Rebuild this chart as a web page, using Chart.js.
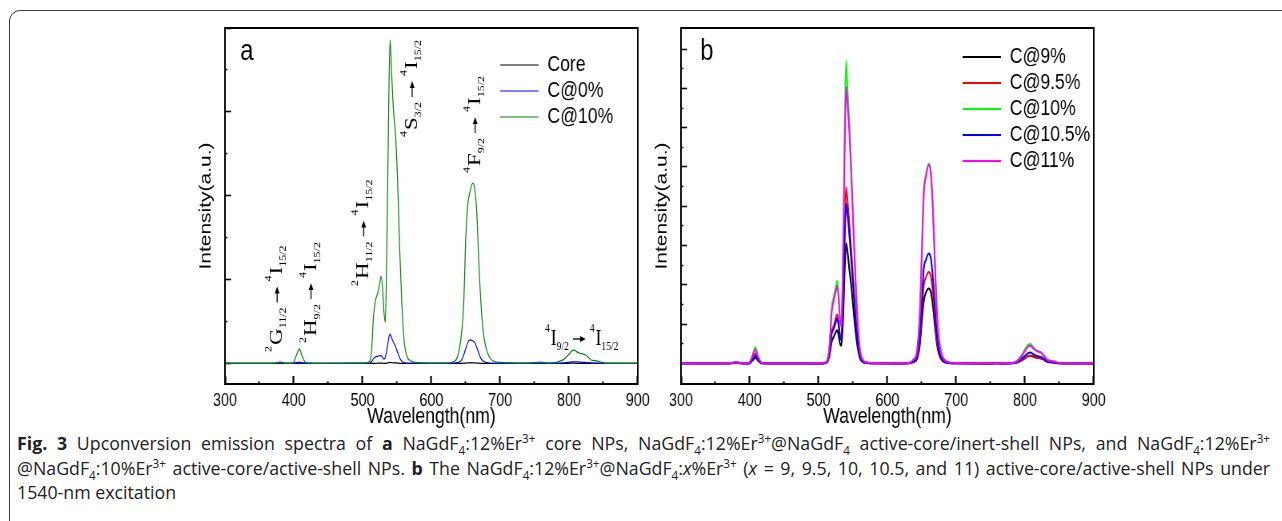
<!DOCTYPE html>
<html>
<head>
<meta charset="utf-8">
<script src="https://cdn.jsdelivr.net/npm/chart.js@4.4.1/dist/chart.umd.min.js"></script>
<style>
body { margin:0; background:#fff; width:1282px; height:521px; overflow:hidden; position:relative; }
#box { position:absolute; left:9px; top:10px; width:1300px; height:600px; border:1px solid #3a3a3a; border-radius:11px; }
.panel { position:absolute; top:0; width:600px; height:430px; transform:scaleX(0.8); transform-origin:0 0; }
#cap { position:absolute; left:17px; top:431px; width:1253px; font-family:"Open Sans", sans-serif; font-size:16px; line-height:24.5px; color:#222; }
#cap div { text-align:justify; text-align-last:justify; white-space:nowrap; }
#cap div.last, #cap.fit div { text-align-last:left; }
#cap sub, #cap sup { font-size:0.66em; line-height:0; }
</style>
</head>
<body>
<div id="box"></div>
<div class="panel" style="left:181px"><canvas id="chartA" width="600" height="430"></canvas></div>
<div class="panel" style="left:637px"><canvas id="chartB" width="600" height="430"></canvas></div>
<div id="cap">
<div><span><b>Fig. 3</b> Upconversion emission spectra of <b>a</b> NaGdF<sub>4</sub>:12%Er<sup>3+</sup> core NPs, NaGdF<sub>4</sub>:12%Er<sup>3+</sup>@NaGdF<sub>4</sub> active-core/inert-shell NPs, and NaGdF<sub>4</sub>:12%Er<sup>3+</sup></span></div>
<div><span>@NaGdF<sub>4</sub>:10%Er<sup>3+</sup> active-core/active-shell NPs. <b>b</b> The NaGdF<sub>4</sub>:12%Er<sup>3+</sup>@NaGdF<sub>4</sub>:<i>x</i>%Er<sup>3+</sup> (<i>x</i> = 9, 9.5, 10, 10.5, and 11) active-core/active-shell NPs under</span></div>
<div class="last"><span>1540-nm excitation</span></div>
</div>
<script>
const wavelength = [300, 360, 372, 376, 380, 384, 388, 396, 400, 404,
    408, 412, 416, 420, 430, 480, 505, 510, 513, 516,
    519, 522, 525, 527, 529, 531, 533, 535, 537, 538,
    540, 542, 545, 548, 551, 554, 557, 560, 564, 570,
    580, 620, 632, 638, 643, 647, 650, 653, 656, 660,
    663, 666, 669, 672, 675, 679, 684, 690, 700, 740,
    760, 770, 780, 788, 794, 800, 804, 808, 812, 816,
    820, 824, 828, 832, 836, 840, 846, 852, 860, 900];

// panel a
const core = [0, 0, 0, 0, 0.001, 0, 0, 0, 0, 0.001,
    0.003, 0.001, 0, 0, 0, 0, 0, 0, 0, 0.001,
    0.002, 0.003, 0.003, 0.004, 0.003, 0.002, 0.002, 0.004, 0.008, 0.01,
    0.012, 0.01, 0.008, 0.006, 0.004, 0.002, 0.001, 0, 0, 0,
    0, 0, 0, 0, 0.001, 0.003, 0.005, 0.007, 0.008, 0.008,
    0.007, 0.005, 0.003, 0.002, 0.001, 0, 0, 0, 0, 0,
    0, 0, 0, 0, 0.001, 0.002, 0.003, 0.003, 0.002, 0.002,
    0.002, 0.001, 0.001, 0, 0, 0, 0, 0, 0, 0];
const shell0 = [0, 0, 0, 0.002, 0.006, 0.003, 0, 0, 0.003, 0.01,
    0.015, 0.009, 0.003, 0, 0, 0, 0, 0.005, 0.02, 0.06,
    0.08, 0.085, 0.095, 0.09, 0.075, 0.05, 0.07, 0.15, 0.25, 0.3,
    0.35, 0.31, 0.25, 0.2, 0.13, 0.065, 0.025, 0.01, 0.003, 0,
    0, 0, 0.003, 0.01, 0.03, 0.1, 0.18, 0.25, 0.28, 0.27,
    0.25, 0.19, 0.12, 0.06, 0.03, 0.012, 0.004, 0, 0, 0,
    0.002, 0, 0, 0.003, 0.008, 0.014, 0.018, 0.02, 0.018, 0.016,
    0.014, 0.012, 0.01, 0.006, 0.004, 0.003, 0.001, 0, 0, 0];
const shell10 = [0, 0, 0.004, 0.01, 0.018, 0.01, 0.003, 0.002, 0.02, 0.1,
    0.175, 0.09, 0.02, 0.006, 0.002, 0.003, 0.006, 0.025, 0.14, 0.58,
    0.76, 0.84, 0.96, 1.04, 0.9, 0.62, 0.49, 1.25, 2.45, 3.1,
    3.86, 3.5, 3.0, 2.72, 2.15, 1.35, 0.72, 0.3, 0.1, 0.03,
    0.01, 0.004, 0.02, 0.08, 0.3, 0.72, 1.5, 1.9, 2.04, 2.15,
    2.08, 1.8, 1.2, 0.72, 0.4, 0.2, 0.08, 0.03, 0.012, 0.004,
    0.015, 0.005, 0.01, 0.03, 0.06, 0.11, 0.15, 0.16, 0.135, 0.122,
    0.115, 0.1, 0.075, 0.042, 0.035, 0.03, 0.015, 0.005, 0.002, 0];

// panel b
const c9 = [0, 0, 0.005, 0.02, 0.03, 0.018, 0.005, 0.002, 0.015, 0.08,
    0.15, 0.075, 0.015, 0.005, 0.002, 0.002, 0.004, 0.015, 0.05, 0.22,
    0.55, 0.68, 0.8, 0.85, 0.72, 0.52, 0.45, 0.9, 1.85, 2.4,
    3.06, 2.85, 2.35, 1.9, 1.3, 0.78, 0.38, 0.14, 0.04, 0.015,
    0.005, 0.003, 0.01, 0.04, 0.11, 0.45, 1.05, 1.6, 1.8, 1.91,
    1.83, 1.5, 0.97, 0.5, 0.23, 0.09, 0.03, 0.012, 0.005, 0.003,
    0.005, 0.003, 0.005, 0.025, 0.07, 0.14, 0.19, 0.2, 0.18, 0.16,
    0.15, 0.13, 0.09, 0.05, 0.035, 0.03, 0.015, 0.005, 0.002, 0];
const c95 = [0, 0, 0.005, 0.02, 0.033, 0.02, 0.005, 0.002, 0.025, 0.13,
    0.25, 0.12, 0.025, 0.008, 0.002, 0.002, 0.004, 0.02, 0.06, 0.3,
    0.8, 0.95, 1.15, 1.25, 1.05, 0.75, 0.65, 1.3, 2.7, 3.5,
    4.48, 4.15, 3.5, 2.75, 1.95, 1.2, 0.6, 0.22, 0.06, 0.02,
    0.005, 0.003, 0.012, 0.05, 0.14, 0.56, 1.28, 2.0, 2.19, 2.33,
    2.24, 1.84, 1.19, 0.6, 0.28, 0.1, 0.04, 0.015, 0.005, 0.003,
    0.005, 0.003, 0.005, 0.025, 0.07, 0.14, 0.19, 0.2, 0.17, 0.15,
    0.14, 0.13, 0.09, 0.05, 0.035, 0.03, 0.015, 0.005, 0.002, 0];
const c10 = [0, 0, 0.006, 0.022, 0.038, 0.022, 0.006, 0.002, 0.04, 0.22,
    0.41, 0.2, 0.04, 0.01, 0.003, 0.003, 0.006, 0.03, 0.1, 0.5,
    1.4, 1.7, 1.95, 2.1, 1.8, 1.2, 1.0, 2.2, 4.6, 6.0,
    7.7, 7.0, 6.0, 4.7, 3.3, 2.0, 1.0, 0.35, 0.1, 0.03,
    0.01, 0.005, 0.02, 0.1, 0.3, 1.2, 2.8, 4.4, 4.8, 5.08,
    4.9, 4.0, 2.6, 1.3, 0.6, 0.22, 0.08, 0.03, 0.01, 0.005,
    0.008, 0.005, 0.01, 0.06, 0.18, 0.36, 0.47, 0.5, 0.42, 0.34,
    0.31, 0.27, 0.18, 0.1, 0.07, 0.06, 0.03, 0.01, 0.003, 0];
const c105 = [0, 0, 0.005, 0.02, 0.03, 0.018, 0.005, 0.002, 0.02, 0.1,
    0.2, 0.1, 0.02, 0.006, 0.002, 0.002, 0.004, 0.02, 0.06, 0.28,
    0.75, 0.88, 1.05, 1.15, 0.98, 0.7, 0.6, 1.2, 2.45, 3.2,
    4.07, 3.8, 3.2, 2.5, 1.78, 1.08, 0.54, 0.2, 0.055, 0.02,
    0.005, 0.003, 0.015, 0.06, 0.17, 0.67, 1.54, 2.43, 2.63, 2.8,
    2.69, 2.21, 1.43, 0.73, 0.34, 0.13, 0.045, 0.015, 0.005, 0.003,
    0.005, 0.003, 0.005, 0.03, 0.1, 0.2, 0.26, 0.28, 0.24, 0.2,
    0.18, 0.16, 0.11, 0.06, 0.045, 0.035, 0.02, 0.005, 0.002, 0];
const c11 = [0, 0, 0.006, 0.02, 0.036, 0.02, 0.006, 0.002, 0.035, 0.19,
    0.35, 0.17, 0.035, 0.01, 0.003, 0.003, 0.005, 0.03, 0.09, 0.45,
    1.3, 1.6, 1.83, 1.97, 1.7, 1.15, 0.95, 2.0, 4.2, 5.5,
    7.04, 6.6, 5.8, 4.6, 3.3, 2.0, 1.0, 0.36, 0.1, 0.03,
    0.01, 0.005, 0.02, 0.1, 0.3, 1.2, 2.75, 4.35, 4.75, 5.05,
    4.87, 4.0, 2.6, 1.32, 0.61, 0.23, 0.08, 0.03, 0.01, 0.005,
    0.008, 0.005, 0.01, 0.055, 0.16, 0.32, 0.42, 0.45, 0.39, 0.33,
    0.3, 0.27, 0.19, 0.1, 0.07, 0.06, 0.03, 0.01, 0.003, 0];

// transition labels of panel a, anchored at (wavelength, intensity)
const transitions = [
    {x: 382.8, y: 0.137, rot: true, runs: [['2', 'sup'], ['G', 'main'], ['11/2', 'sub'], ['', 'arrow'], ['4', 'sup'], ['I', 'main'], ['15/2', 'sub']]},
    {x: 432, y: 0.244, rot: true, runs: [['2', 'sup'], ['H', 'main'], ['9/2', 'sub'], ['', 'arrow'], ['4', 'sup'], ['I', 'main'], ['15/2', 'sub']]},
    {x: 508.6, y: 0.924, rot: true, runs: [['2', 'sup'], ['H', 'main'], ['11/2', 'sub'], ['', 'arrow'], ['4', 'sup'], ['I', 'main'], ['15/2', 'sub']]},
    {x: 579, y: 2.7, rot: true, runs: [['4', 'sup'], ['S', 'main'], ['3/2', 'sub'], ['', 'arrow'], ['4', 'sup'], ['I', 'main'], ['15/2', 'sub']]},
    {x: 670.6, y: 2.27, rot: true, runs: [['4', 'sup'], ['F', 'main'], ['9/2', 'sub'], ['', 'arrow'], ['4', 'sup'], ['I', 'main'], ['15/2', 'sub']]},
    {x: 765, y: 0.22, rot: false, runs: [['4', 'sup'], ['I', 'main'], ['9/2', 'sub'], ['', 'arrow'], ['4', 'sup'], ['I', 'main'], ['15/2', 'sub']]}
];

const SANS = '"Liberation Sans", Arial, sans-serif';
const SERIF = '"Liberation Serif", "Times New Roman", serif';
const RUN = {
    main: {size: 23, dy: 0, pre: 0, post: 0},
    sup: {size: 12, dy: -13, pre: 0, post: 1},
    sub: {size: 12, dy: 5, pre: 0, post: 0},
    arrow: {size: 16, dy: -6, pre: 5, post: 5}
};

function pts(vals) {
    return wavelength.map((w, i) => ({x: w, y: vals[i]}));
}
const isWhole = v => Math.abs(v - Math.round(v)) < 1e-6;
const isHalf = v => Math.abs(v * 2 - Math.round(v * 2)) < 1e-6;

const frame = {
    id: 'frame',
    afterDatasetsDraw(chart) {
        const {ctx, chartArea: a} = chart;
        ctx.save();
        ctx.strokeStyle = '#000';
        ctx.lineWidth = 2;
        ctx.strokeRect(a.left, a.top, a.right - a.left, a.bottom - a.top);
        ctx.restore();
    }
};

const panelTag = {
    id: 'panelTag',
    afterDraw(chart, args, opts) {
        const {ctx, chartArea: a} = chart;
        ctx.save();
        ctx.font = '30px ' + SANS;
        ctx.fillStyle = '#000';
        ctx.fillText(opts.text, a.left + opts.dx, a.top + 32);
        ctx.restore();
    }
};

// put the legend inside the plot, top right
const legendSpot = {
    id: 'legendSpot',
    afterLayout(chart, args, opts) {
        const lg = chart.legend;
        lg.left = opts.left;
        lg.top = opts.top;
        lg.right = lg.left + lg.width;
        lg.bottom = chart.chartArea.bottom;
    }
};

const levels = {
    id: 'levels',
    afterDatasetsDraw(chart, args, opts) {
        const {ctx, scales: {x, y}} = chart;
        ctx.save();
        ctx.fillStyle = '#000';
        ctx.strokeStyle = '#000';
        ctx.lineWidth = 1.3;
        ctx.textBaseline = 'alphabetic';
        (opts.items || []).forEach(it => {
            ctx.save();
            ctx.translate(x.getPixelForValue(it.x), y.getPixelForValue(it.y));
            if (it.rot) ctx.rotate(-Math.PI / 2);
            let cx = 0;
            it.runs.forEach(([t, k]) => {
                const r = RUN[k];
                cx += r.pre;
                if (k === 'arrow') {
                    ctx.beginPath();
                    ctx.moveTo(cx, r.dy);
                    ctx.lineTo(cx + r.size - 5, r.dy);
                    ctx.stroke();
                    ctx.beginPath();
                    ctx.moveTo(cx + r.size, r.dy);
                    ctx.lineTo(cx + r.size - 7, r.dy - 3);
                    ctx.lineTo(cx + r.size - 7, r.dy + 3);
                    ctx.closePath();
                    ctx.fill();
                    cx += r.size + r.post;
                    return;
                }
                ctx.font = r.size + 'px ' + SERIF;
                ctx.fillText(t, cx, r.dy);
                cx += ctx.measureText(t).width + r.post;
            });
            ctx.restore();
        });
        ctx.restore();
    }
};

function makeChart(id, sets, yMin, yMax, tag, tagDx, legLeft, legTop, items) {
    return new Chart(document.getElementById(id), {
        type: 'line',
        data: {datasets: sets},
        options: {
            responsive: false,
            animation: false,
            devicePixelRatio: 1,
            layout: {padding: {top: 28, right: 29, left: 0, bottom: 0}},
            elements: {point: {radius: 0}, line: {cubicInterpolationMode: 'monotone'}},
            plugins: {
                tooltip: {enabled: false},
                legend: {
                    position: 'chartArea',
                    align: 'start',
                    labels: {
                        usePointStyle: true, pointStyle: 'line', pointStyleWidth: 48,
                        padding: 4, color: '#000', font: {family: SANS, size: 22},
                        sort: (a, b) => a.datasetIndex - b.datasetIndex
                    }
                },
                legendSpot: {left: legLeft, top: legTop},
                panelTag: {text: tag, dx: tagDx},
                levels: {items: items}
            },
            scales: {
                x: {
                    type: 'linear', position: 'bottom', min: 300, max: 900,
                    afterFit: s => { s.height = 46; },
                    border: {display: true, color: '#000', width: 2},
                    grid: {
                        drawOnChartArea: false, tickLength: -8, tickWidth: 2.2, tickColor: '#000',
                        tickBorderDash: c => (c.tick && c.tick.value % 100 !== 0) ? [3.5, 100] : []
                    },
                    ticks: {
                        stepSize: 50, autoSkip: false, maxRotation: 0, padding: 14, color: '#000',
                        font: {family: SANS, size: 18},
                        callback: v => v % 100 === 0 ? String(v) : ''
                    },
                    title: {display: true, text: 'Wavelength(nm)', color: '#000', font: {family: SANS, size: 22}, padding: {top: 0, bottom: 0}}
                },
                y: {
                    min: yMin, max: yMax,
                    afterFit: s => { s.width = 55; },
                    border: {display: true, color: '#000', width: 2},
                    grid: {
                        drawOnChartArea: false, tickLength: -7.5, tickWidth: 1.6,
                        tickColor: c => (c.tick && isHalf(c.tick.value) && c.tick.value >= 0) ? '#000' : 'rgba(0,0,0,0)',
                        tickBorderDash: c => (c.tick && !isWhole(c.tick.value)) ? [0, 4.5, 10, 100] : []
                    },
                    ticks: {display: false, stepSize: 0.5, autoSkip: false},
                    title: {display: true, text: 'Intensity(a.u.)', color: '#000', font: {family: SANS, size: 21}, padding: {top: 18.6, bottom: 0}}
                }
            }
        },
        plugins: [frame, panelTag, legendSpot, levels]
    });
}

makeChart('chartA', [
    {label: 'Core', data: pts(core), borderColor: '#000000', borderWidth: 1.2, order: 3},
    {label: 'C@0%', data: pts(shell0), borderColor: '#0000ff', borderWidth: 1.2, order: 2},
    {label: 'C@10%', data: pts(shell10), borderColor: '#008000', borderWidth: 1.2, order: 1}
], -0.245, 4, 'a', 19, 395, 50, transitions);

makeChart('chartB', [
    {label: 'C@9%', data: pts(c9), borderColor: '#000000', borderWidth: 2, order: 5},
    {label: 'C@9.5%', data: pts(c95), borderColor: '#ff0000', borderWidth: 2, order: 4},
    {label: 'C@10%', data: pts(c10), borderColor: '#00ff00', borderWidth: 2, order: 3},
    {label: 'C@10.5%', data: pts(c105), borderColor: '#0000ff', borderWidth: 2, order: 2},
    {label: 'C@11%', data: pts(c11), borderColor: '#ff00ff', borderWidth: 2, order: 1}
], -0.52, 8.535, 'b', 24, 403, 42, []);

// caption: largest font size at which the two full lines still fit
const cap = document.getElementById('cap');
const spans = cap.querySelectorAll('span');
cap.classList.add('fit');
for (let fs = 19; fs > 12; fs -= 0.25) {
    cap.style.fontSize = fs + 'px';
    const w = Math.max(spans[0].getBoundingClientRect().width, spans[1].getBoundingClientRect().width);
    if (w <= 1236) break;
}
cap.classList.remove('fit');
</script>
</body>
</html>
